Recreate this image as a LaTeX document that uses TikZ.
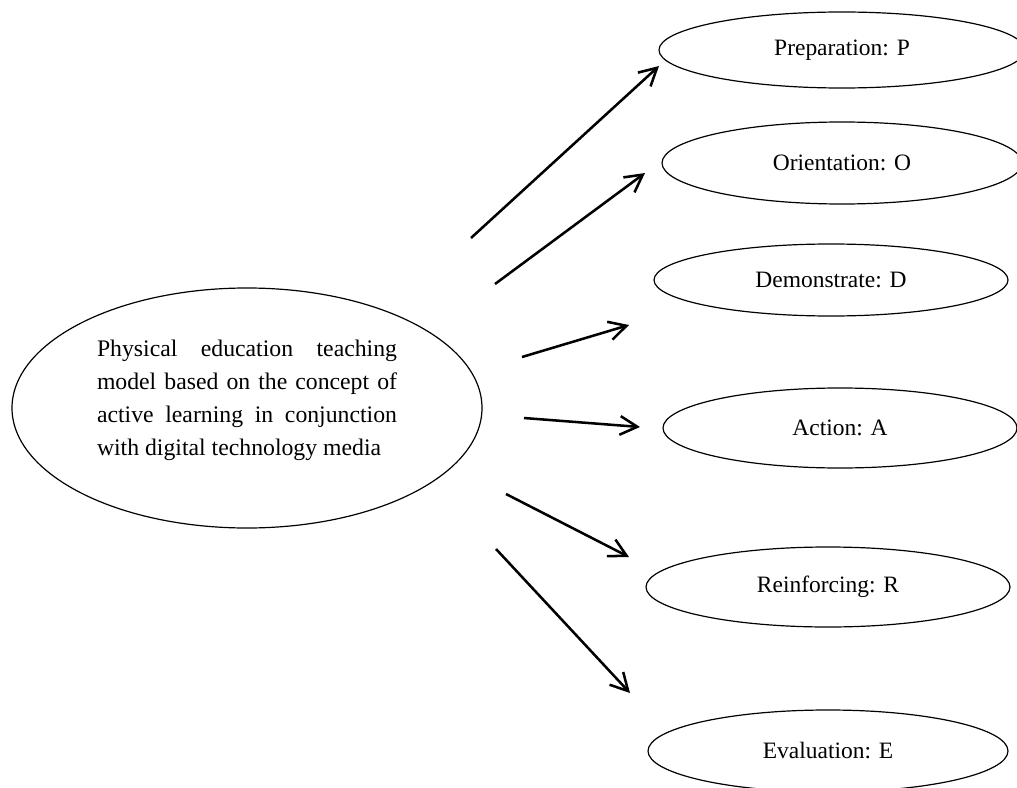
\documentclass[tikz,border=0pt]{standalone}
\usepackage{fontspec}
\setmainfont{Liberation Serif}
\usetikzlibrary{shapes.geometric,arrows.meta}
\tikzset{
  stage/.style={draw=black, line width=0.9pt, ellipse, inner sep=0pt, font=\fontsize{17.6pt}{21pt}\selectfont},
  link/.style={draw=black, line width=1.9pt, -{Straight Barb[length=13pt,width=14pt,line width=1.9pt]}}
}
\begin{document}
\begin{tikzpicture}[x=0.75pt,y=-0.75pt]
\useasboundingbox (0,0) rectangle (1017,788);
% centre ellipse
\node[stage, minimum width=352.5pt, minimum height=180pt] (main) at (247,408) {};
\node[text width=225pt, align=justify, inner sep=0pt, font=\fontsize{17.8pt}{24.75pt}\selectfont] (maintext) at (247,400)
  {Physical education teaching\linebreak model based on the concept of\linebreak active learning in conjunction\linebreak with digital technology media};
% stages
\node[stage, minimum width=274.5pt, minimum height=57pt]   (prep)   at (842,50)  {Preparation: P};
\node[stage, minimum width=270pt,   minimum height=61.5pt] (orient) at (842,163) {Orientation: O};
\node[stage, minimum width=265.5pt, minimum height=54pt]   (demo)   at (831,280) {Demonstrate: D};
\node[stage, minimum width=265.5pt, minimum height=60pt]   (act)    at (840,428) {Action: A};
\node[stage, minimum width=273pt,   minimum height=60pt]   (reinf)  at (828,587) {Reinforcing: R};
\node[stage, minimum width=270pt,   minimum height=61.5pt] (eval)   at (828,751) {Evaluation: E};
% arrow end points
\coordinate (s1) at (471,238); \coordinate (e1) at (659,66);
\coordinate (s2) at (495,284); \coordinate (e2) at (645,173);
\coordinate (s3) at (522,357); \coordinate (e3) at (629,325);
\coordinate (s4) at (524,418); \coordinate (e4) at (640,427);
\coordinate (s5) at (506,494); \coordinate (e5) at (629,557);
\coordinate (s6) at (496,549); \coordinate (e6) at (630,693);
\draw[link] (s1) -- (e1);
\draw[link] (s2) -- (e2);
\draw[link] (s3) -- (e3);
\draw[link] (s4) -- (e4);
\draw[link] (s5) -- (e5);
\draw[link] (s6) -- (e6);
\end{tikzpicture}
\end{document}
